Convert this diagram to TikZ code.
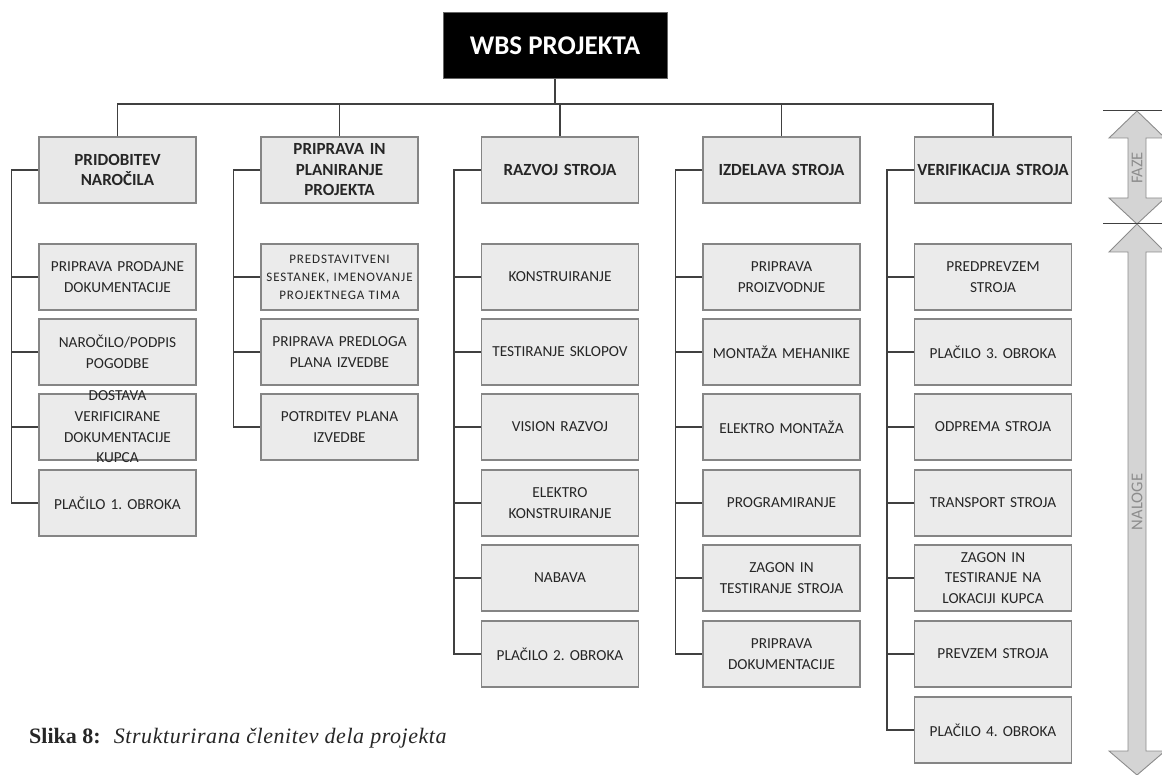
\documentclass[tikz,border=0pt]{standalone}
\usepackage{fontspec}
\setmainfont{Carlito}
\newfontfamily\capfont{Liberation Serif}
\frenchspacing
\begin{document}
\begin{tikzpicture}[x=1pt,y=-1pt,
  boxline/.style={draw=black!48, line width=1.1pt},
  conn/.style={draw=black!75, line width=1.2pt},
  topbox/.style={fill=black, draw=black!60, line width=1pt, minimum width=224pt, minimum height=66pt, inner sep=0pt,
     text=white, font=\fontsize{27}{30}\selectfont\bfseries},
  phase/.style={boxline, fill=black!9, minimum width=157pt, minimum height=66pt, inner sep=0pt,
     align=center, text width=157pt, text=black!85, font=\fontsize{17}{20.5}\selectfont\bfseries},
  task/.style={boxline, fill=black!8, minimum width=157pt, minimum height=66pt, inner sep=0pt},
  tasktext/.style={align=center, text width=160pt, inner sep=0pt, text=black!85, font=\fontsize{15.3}{20.7}\selectfont},
  smalltext/.style={tasktext, font=\fontsize{13}{18}\selectfont\addfontfeatures{LetterSpace=7}},
  bigarrow/.style={draw=black!45, line width=0.9pt, fill=black!17},
  arrowtext/.style={text=black!45, font=\fontsize{16.5}{18}\selectfont, rotate=90, inner sep=0pt},
  caption/.style={anchor=base west, inner sep=0pt, text=black!85, font=\capfont\fontsize{22}{24}\selectfont}
]
\useasboundingbox (0,0) rectangle (1162,775);

% top node
\node[topbox] (wbs) at (555,46) {WBS PROJEKTA};

% phase nodes
\node[phase] (p1) at (117.5,170) {PRIDOBITEV\\NAROČILA};
\node[phase] (p2) at (339.5,170) {PRIPRAVA IN\\PLANIRANJE\\PROJEKTA};
\node[phase] (p3) at (560,170) {RAZVOJ STROJA};
\node[phase] (p4) at (781.5,170) {IZDELAVA STROJA};
\node[phase] (p5) at (993,170) {VERIFIKACIJA STROJA};

% tree connectors
\coordinate (hl) at (117.5,104);
\coordinate (hr) at (993,104);
\draw[conn] (wbs.south) -- (wbs.south |- hl);
\draw[conn] (p1.north) -- (hl) -- (hr) -- (p5.north);
\draw[conn] (p2.north) -- (p2.north |- hl);
\draw[conn] (p3.north) -- (p3.north |- hl);
\draw[conn] (p4.north) -- (p4.north |- hl);

% task rows
\def\rowA{277}\def\rowB{352}\def\rowC{427}\def\rowD{503}\def\rowE{578}\def\rowF{654}\def\rowG{730}

% column 1
\node[task] (a1) at (117.5,\rowA) {}; \node[tasktext] (ta1) at (a1) {PRIPRAVA PRODAJNE\\DOKUMENTACIJE};
\node[task] (a2) at (117.5,\rowB) {}; \node[tasktext] (ta2) at (a2) {NAROČILO/PODPIS\\POGODBE};
\node[task] (a3) at (117.5,\rowC) {}; \node[tasktext] (ta3) at (a3) {DOSTAVA\\VERIFICIRANE\\DOKUMENTACIJE\\KUPCA};
\node[task] (a4) at (117.5,\rowD) {}; \node[tasktext] (ta4) at (a4) {PLAČILO 1. OBROKA};

% column 2
\node[task] (b1) at (339.5,\rowA) {}; \node[smalltext] (tb1) at (b1) {PREDSTAVITVENI\\SESTANEK, IMENOVANJE\\PROJEKTNEGA TIMA};
\node[task] (b2) at (339.5,\rowB) {}; \node[tasktext] (tb2) at (b2) {PRIPRAVA PREDLOGA\\PLANA IZVEDBE};
\node[task] (b3) at (339.5,\rowC) {}; \node[tasktext] (tb3) at (b3) {POTRDITEV PLANA\\IZVEDBE};

% column 3
\node[task] (c1) at (560,\rowA) {}; \node[tasktext] (tc1) at (c1) {KONSTRUIRANJE};
\node[task] (c2) at (560,\rowB) {}; \node[tasktext] (tc2) at (c2) {TESTIRANJE SKLOPOV};
\node[task] (c3) at (560,\rowC) {}; \node[tasktext] (tc3) at (c3) {VISION RAZVOJ};
\node[task] (c4) at (560,\rowD) {}; \node[tasktext] (tc4) at (c4) {ELEKTRO\\KONSTRUIRANJE};
\node[task] (c5) at (560,\rowE) {}; \node[tasktext] (tc5) at (c5) {NABAVA};
\node[task] (c6) at (560,\rowF) {}; \node[tasktext] (tc6) at (c6) {PLAČILO 2. OBROKA};

% column 4
\node[task] (d1) at (781.5,\rowA) {}; \node[tasktext] (td1) at (d1) {PRIPRAVA\\PROIZVODNJE};
\node[task] (d2) at (781.5,\rowB) {}; \node[tasktext] (td2) at (d2) {MONTAŽA MEHANIKE};
\node[task] (d3) at (781.5,\rowC) {}; \node[tasktext] (td3) at (d3) {ELEKTRO MONTAŽA};
\node[task] (d4) at (781.5,\rowD) {}; \node[tasktext] (td4) at (d4) {PROGRAMIRANJE};
\node[task] (d5) at (781.5,\rowE) {}; \node[tasktext] (td5) at (d5) {ZAGON IN\\TESTIRANJE STROJA};
\node[task] (d6) at (781.5,\rowF) {}; \node[tasktext] (td6) at (d6) {PRIPRAVA\\DOKUMENTACIJE};

% column 5
\node[task] (e1) at (993,\rowA) {}; \node[tasktext] (te1) at (e1) {PREDPREVZEM\\STROJA};
\node[task] (e2) at (993,\rowB) {}; \node[tasktext] (te2) at (e2) {PLAČILO 3. OBROKA};
\node[task] (e3) at (993,\rowC) {}; \node[tasktext] (te3) at (e3) {ODPREMA STROJA};
\node[task] (e4) at (993,\rowD) {}; \node[tasktext] (te4) at (e4) {TRANSPORT STROJA};
\node[task] (e5) at (993,\rowE) {}; \node[tasktext] (te5) at (e5) {ZAGON IN\\TESTIRANJE NA\\LOKACIJI KUPCA};
\node[task] (e6) at (993,\rowF) {}; \node[tasktext] (te6) at (e6) {PREVZEM STROJA};
\node[task] (e7) at (993,\rowG) {}; \node[tasktext] (te7) at (e7) {PLAČILO 4. OBROKA};

% brackets
\foreach \p/\last/\items in {p1/a4/{a1,a2,a3}, p2/b3/{b1,b2}, p3/c6/{c1,c2,c3,c4,c5}, p4/d6/{d1,d2,d3,d4,d5}, p5/e7/{e1,e2,e3,e4,e5,e6}}{
  \coordinate (bx-\p) at ([xshift=-27pt]\p.west);
  \draw[conn] (\p.west) -- (bx-\p) |- (\last.west);
  \foreach \t in \items { \draw[conn] (\t.west) -- (bx-\p |- \t.west); }
}

% FAZE / NALOGE arrows
\coordinate (ft) at (1137,111);
\coordinate (fb) at (1137,224);
\coordinate (nb) at (1137,775);
\draw[conn, line width=1pt] (1103,111) -- (1162,111);
\draw[bigarrow] (ft) -- (1109,138) -- (1128,138) -- (1128,198) -- (1109,198) -- (fb) -- (1165,198) -- (1146,198) -- (1146,138) -- (1165,138) -- cycle;
\draw[bigarrow] (fb) -- (1109,252) -- (1128,252) -- (1128,751) -- (1109,751) -- (nb) -- (1165,751) -- (1146,751) -- (1146,252) -- (1165,252) -- cycle;
\draw[conn, line width=1pt] (1103,224) -- (1162,224);
\node[arrowtext] (faze) at (1137,168) {FAZE};
\node[arrowtext] (naloge) at (1137,502) {NALOGE};

% caption
\node[caption] (cap) at (29,743) {\textbf{Slika 8:}\hspace{0.6em}{\itshape\addfontfeatures{LetterSpace=2.5}Strukturirana členitev dela projekta}};
\end{tikzpicture}
\end{document}
